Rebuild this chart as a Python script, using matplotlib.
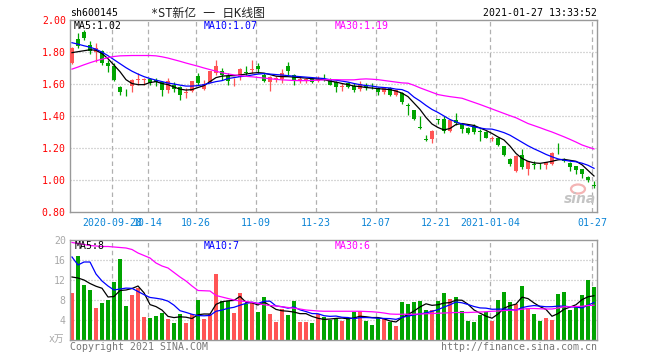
import matplotlib
matplotlib.use("Agg")
import matplotlib.pyplot as plt
from matplotlib.patches import Ellipse
import numpy as np

W, H = 660, 360
MONO = "DejaVu Sans Mono"
CJK = ["DejaVu Sans Mono", "Noto Sans CJK SC"]

# ---- daily K-line, 2020-09-17 .. 2021-01-27
opens = [1.733, 1.883, 1.926, 1.845, 1.802, 1.804, 1.732, 1.715, 1.580, 1.553,
         1.586, 1.627, 1.625, 1.632, 1.623, 1.611, 1.565, 1.596, 1.580, 1.545,
         1.555, 1.648, 1.571, 1.611, 1.669, 1.684, 1.649, 1.623, 1.645, 1.677,
         1.688, 1.715, 1.659, 1.612, 1.630, 1.632, 1.715, 1.659, 1.626, 1.627,
         1.633, 1.621, 1.630, 1.632, 1.611, 1.584, 1.609, 1.586, 1.569, 1.587,
         1.584, 1.576, 1.548, 1.576, 1.534, 1.545, 1.467, 1.436, 1.332, 1.257,
         1.254, 1.381, 1.383, 1.305, 1.378, 1.347, 1.327, 1.337, 1.306, 1.299,
         1.257, 1.264, 1.212, 1.133, 1.056, 1.154, 1.071, 1.101, 1.090, 1.092,
         1.098, 1.190, 1.133, 1.108, 1.087, 1.067, 1.021, 0.966]
highs = [1.830, 1.920, 1.940, 1.867, 1.858, 1.814, 1.752, 1.733, 1.590, 1.571,
         1.630, 1.671, 1.640, 1.640, 1.640, 1.620, 1.638, 1.615, 1.585, 1.578,
         1.621, 1.669, 1.627, 1.684, 1.752, 1.702, 1.671, 1.640, 1.702, 1.712,
         1.748, 1.732, 1.671, 1.648, 1.650, 1.693, 1.735, 1.662, 1.652, 1.640,
         1.640, 1.648, 1.665, 1.636, 1.620, 1.609, 1.615, 1.607, 1.617, 1.607,
         1.607, 1.580, 1.580, 1.580, 1.565, 1.550, 1.484, 1.440, 1.399, 1.279,
         1.310, 1.381, 1.399, 1.380, 1.420, 1.350, 1.330, 1.347, 1.316, 1.305,
         1.274, 1.270, 1.215, 1.136, 1.155, 1.196, 1.120, 1.118, 1.109, 1.115,
         1.172, 1.229, 1.140, 1.110, 1.090, 1.070, 1.025, 0.994]
lows = [1.725, 1.827, 1.877, 1.790, 1.740, 1.721, 1.673, 1.621, 1.534, 1.525,
        1.550, 1.596, 1.596, 1.596, 1.590, 1.528, 1.545, 1.547, 1.499, 1.515,
        1.550, 1.596, 1.565, 1.609, 1.659, 1.627, 1.593, 1.587, 1.627, 1.659,
        1.669, 1.671, 1.615, 1.559, 1.612, 1.609, 1.659, 1.594, 1.609, 1.609,
        1.609, 1.615, 1.617, 1.593, 1.548, 1.559, 1.578, 1.548, 1.555, 1.565,
        1.569, 1.534, 1.540, 1.523, 1.528, 1.472, 1.409, 1.378, 1.316, 1.243,
        1.233, 1.347, 1.295, 1.300, 1.341, 1.295, 1.290, 1.285, 1.243, 1.260,
        1.243, 1.210, 1.148, 1.090, 1.051, 1.071, 1.029, 1.071, 1.067, 1.067,
        1.095, 1.160, 1.115, 1.056, 1.036, 1.015, 0.988, 0.953]
closes = [1.827, 1.839, 1.886, 1.805, 1.827, 1.732, 1.710, 1.627, 1.548, 1.547,
          1.627, 1.633, 1.628, 1.607, 1.615, 1.565, 1.617, 1.571, 1.534, 1.551,
          1.617, 1.607, 1.602, 1.680, 1.712, 1.659, 1.618, 1.628, 1.694, 1.670,
          1.695, 1.694, 1.618, 1.643, 1.635, 1.668, 1.679, 1.628, 1.632, 1.631,
          1.614, 1.633, 1.625, 1.596, 1.582, 1.590, 1.584, 1.565, 1.603, 1.582,
          1.579, 1.548, 1.576, 1.534, 1.561, 1.486, 1.460, 1.383, 1.326, 1.251,
          1.305, 1.376, 1.305, 1.378, 1.358, 1.316, 1.296, 1.299, 1.300, 1.264,
          1.262, 1.216, 1.154, 1.098, 1.150, 1.084, 1.118, 1.096, 1.085, 1.112,
          1.166, 1.185, 1.118, 1.084, 1.063, 1.036, 1.000, 0.960]

ma5 = [1.796, 1.802, 1.808, 1.814, 1.811, 1.790, 1.758, 1.718, 1.677, 1.627,
       1.603, 1.596, 1.596, 1.609, 1.615, 1.603, 1.596, 1.581, 1.568, 1.562,
       1.565, 1.578, 1.590, 1.615, 1.640, 1.649, 1.652, 1.652, 1.656, 1.662,
       1.668, 1.671, 1.668, 1.659, 1.649, 1.646, 1.646, 1.643, 1.640, 1.637,
       1.634, 1.631, 1.627, 1.618, 1.612, 1.603, 1.596, 1.587, 1.584, 1.578,
       1.575, 1.571, 1.568, 1.565, 1.556, 1.543, 1.521, 1.481, 1.441, 1.391,
       1.350, 1.328, 1.313, 1.322, 1.347, 1.353, 1.347, 1.341, 1.325, 1.310,
       1.291, 1.269, 1.250, 1.212, 1.166, 1.135, 1.117, 1.107, 1.104, 1.110,
       1.117, 1.126, 1.129, 1.123, 1.117, 1.095, 1.060, 1.025]
ma10 = [1.858, 1.849, 1.839, 1.830, 1.817, 1.799, 1.777, 1.752, 1.727, 1.702,
        1.680, 1.662, 1.646, 1.634, 1.624, 1.615, 1.606, 1.600, 1.593, 1.587,
        1.587, 1.590, 1.596, 1.606, 1.615, 1.621, 1.634, 1.640, 1.646, 1.649,
        1.656, 1.662, 1.665, 1.662, 1.659, 1.656, 1.652, 1.649, 1.646, 1.643,
        1.640, 1.637, 1.634, 1.627, 1.624, 1.618, 1.612, 1.603, 1.596, 1.590,
        1.587, 1.581, 1.578, 1.575, 1.568, 1.565, 1.550, 1.518, 1.494, 1.466,
        1.441, 1.422, 1.400, 1.378, 1.363, 1.350, 1.341, 1.332, 1.325, 1.319,
        1.318, 1.308, 1.296, 1.280, 1.258, 1.236, 1.214, 1.195, 1.178, 1.160,
        1.145, 1.132, 1.124, 1.118, 1.114, 1.105, 1.092, 1.073]
ma30 = [1.693, 1.706, 1.720, 1.733, 1.745, 1.755, 1.765, 1.772, 1.776, 1.777,
        1.778, 1.778, 1.778, 1.778, 1.776, 1.770, 1.762, 1.752, 1.742, 1.731,
        1.721, 1.711, 1.700, 1.690, 1.680, 1.670, 1.663, 1.657, 1.652, 1.648,
        1.645, 1.641, 1.637, 1.633, 1.629, 1.626, 1.624, 1.622, 1.621, 1.621,
        1.622, 1.624, 1.626, 1.627, 1.627, 1.626, 1.626, 1.626, 1.630, 1.632,
        1.630, 1.627, 1.622, 1.617, 1.612, 1.607, 1.605, 1.592, 1.576, 1.562,
        1.548, 1.534, 1.527, 1.521, 1.516, 1.511, 1.498, 1.485, 1.472, 1.458,
        1.444, 1.430, 1.416, 1.402, 1.389, 1.371, 1.353, 1.340, 1.327, 1.313,
        1.300, 1.285, 1.270, 1.254, 1.237, 1.219, 1.206, 1.194]

# ---- volume (x万)
vol = [9.47, 16.8, 11.0, 10.0, 6.47, 7.47, 8.0, 11.53, 16.2, 6.87,
       9.0, 10.47, 4.67, 4.4, 4.87, 5.47, 4.2, 3.47, 5.2, 3.47,
       5.13, 8.0, 4.2, 5.13, 13.2, 7.8, 7.8, 5.47, 9.4, 7.13,
       7.47, 5.53, 8.6, 5.27, 3.67, 6.2, 5.0, 7.8, 3.67, 3.67,
       3.47, 5.13, 4.67, 4.0, 4.33, 3.8, 4.33, 5.53, 5.8, 3.8,
       3.0, 4.33, 4.2, 3.67, 2.87, 7.53, 7.2, 7.67, 7.8, 6.0,
       6.0, 7.8, 9.33, 8.2, 8.6, 5.8, 3.8, 3.67, 5.0, 5.53,
       3.8, 7.93, 9.53, 7.53, 7.13, 10.73, 6.47, 5.2, 3.8, 4.33,
       3.93, 9.13, 9.53, 6.0, 6.67, 9.0, 12.0, 10.6]
vol_ma5 = [12.6, 12.4, 12.0, 11.3, 10.75, 10.35, 8.6, 8.7, 9.9, 10.0,
           10.3, 10.8, 9.44, 7.08, 6.68, 5.98, 4.72, 4.48, 4.64, 4.56,
           4.29, 5.05, 5.20, 5.19, 7.13, 7.65, 7.83, 7.92, 8.73, 7.52,
           7.45, 7.00, 7.63, 6.88, 6.12, 5.85, 5.75, 5.59, 5.27, 5.27,
           4.72, 4.35, 4.12, 4.19, 4.32, 4.39, 4.23, 4.40, 4.76, 4.65,
           4.49, 4.49, 4.23, 3.80, 3.61, 4.52, 5.09, 5.79, 6.61, 7.24,
           6.93, 7.05, 7.39, 7.47, 7.99, 7.95, 7.15, 6.01, 5.37, 4.76,
           4.36, 5.19, 6.36, 6.86, 7.18, 8.57, 8.28, 7.41, 6.67, 6.11,
           4.75, 5.28, 6.14, 6.58, 7.05, 8.07, 8.64, 8.85]
vol_ma10 = [16.6, 15.0, 15.6, 15.6, 13.2, 11.8, 10.8, 10.0, 10.2, 10.38,
            10.33, 9.70, 9.07, 8.51, 8.35, 8.15, 7.77, 6.96, 5.86, 5.52,
            5.14, 4.89, 4.84, 4.91, 5.75, 5.98, 6.34, 6.54, 6.96, 7.33,
            7.56, 7.31, 7.75, 7.77, 6.81, 6.65, 6.37, 6.61, 6.03, 5.69,
            5.29, 5.25, 4.86, 4.73, 4.79, 4.55, 4.49, 4.26, 4.47, 4.49,
            4.44, 4.36, 4.31, 4.28, 4.13, 4.51, 4.79, 5.01, 5.21, 5.43,
            5.73, 6.07, 6.59, 7.04, 7.61, 7.44, 7.10, 6.70, 6.42, 6.37,
            6.15, 6.17, 6.19, 6.12, 5.97, 6.47, 6.73, 6.89, 6.77, 6.65,
            6.66, 6.78, 6.78, 6.63, 6.58, 6.41, 6.96, 7.50]
vol_ma30 = [19.5, 19.3, 19.1, 18.9, 18.8, 18.7, 18.7, 18.6, 18.5, 18.4,
            18.1, 17.4, 16.9, 16.4, 15.4, 14.8, 14.4, 13.5, 12.6, 11.8,
            10.8, 9.9, 9.85, 9.8, 8.9, 8.6, 8.3, 8.0, 7.8, 7.7,
            7.55, 7.3, 7.05, 6.9, 6.8, 6.65, 6.5, 6.35, 6.2, 6.0,
            5.9, 5.8, 5.75, 5.75, 5.75, 5.75, 5.75, 5.75, 5.75, 5.7,
            5.65, 5.55, 5.4, 5.2, 5.15, 5.15, 5.15, 5.15, 5.2, 5.25,
            5.3, 5.35, 5.4, 5.45, 5.5, 5.5, 5.5, 5.55, 5.6, 5.65,
            5.75, 5.8, 5.9, 5.95, 6.0, 6.15, 6.3, 6.3, 6.25, 6.2,
            6.2, 6.4, 6.65, 6.65, 6.7, 6.75, 6.9, 6.95]

tick_idx = [7, 13, 21, 31, 41, 51, 61, 70, 87]
tick_labels = ["2020-09-28", "10-14", "10-26", "11-09", "11-23",
               "12-07", "12-21", "2021-01-04", "01-27"]
price_ticks = [0.80, 1.00, 1.20, 1.40, 1.60, 1.80, 2.00]
vol_ticks = [4, 8, 12, 16, 20]

RED, GREEN = "#ff5555", "#00a400"
GRAY = "#999999"
GRID = "#b0b0b0"


def fx(x):
    return x / W


def fy(y):
    return 1 - y / H


fig = plt.figure(figsize=(W / 100, H / 100), dpi=100)
fig.patch.set_facecolor("white")
ax = fig.add_axes([fx(70), fy(212), (597 - 70) / W, 192 / H])
axv = fig.add_axes([fx(70), fy(340), (597 - 70) / W, 100 / H])

x = np.arange(len(closes))
o, h, l, c = map(np.array, (opens, highs, lows, closes))
up = c >= o
cols = np.where(up, RED, GREEN)
grid_x = [i - 1 / 3 for i in tick_idx]

for a in (ax, axv):
    a.set_xlim(-1 / 3, 87.5)
    for s in a.spines.values():
        s.set_color(GRAY)
        s.set_linewidth(1.0)
    for gx in grid_x:
        a.axvline(gx, color=GRID, lw=0.9, ls=(0, (3.6, 2.6)), zorder=0)
    a.tick_params(length=0)

# price panel
ax.set_ylim(0.80, 2.00)
for yv in price_ticks[1:-1]:
    ax.axhline(yv, color=GRID, lw=0.9, ls=(0, (0.8, 1.6)), zorder=0)
ax.vlines(x, l, h, colors=cols, lw=0.9, zorder=2)
body_h = np.maximum(np.abs(c - o), 0.005)
ax.bar(x, body_h, bottom=np.minimum(o, c), width=0.82, color=cols,
       lw=0, zorder=3)
ax.plot(x, ma5, color="black", lw=0.9, zorder=4)
ax.plot(x, ma10, color="#0000ff", lw=0.9, zorder=4)
ax.plot(x, ma30, color="#ff00ff", lw=0.9, zorder=4)
ax.set_yticks(price_ticks)
ax.set_yticklabels([f"{v:.2f}" for v in price_ticks], color="#ff0000",
                   family=MONO, fontsize=7.1)
ax.set_xticks(grid_x)
ax.set_xticklabels(tick_labels, color="#0a84d6", family=MONO, fontsize=7.1)
ax.tick_params(axis="y", pad=3)
ax.tick_params(axis="x", pad=4)

# volume panel
axv.set_ylim(0, 20)
for yv in vol_ticks[:-1]:
    axv.axhline(yv, color=GRID, lw=0.9, ls=(0, (0.8, 1.6)), zorder=0)
axv.bar(x, vol, width=0.82, color=cols, lw=0, zorder=2)
axv.plot(x, vol_ma5, color="black", lw=0.9, zorder=4)
axv.plot(x, vol_ma10, color="#0000ff", lw=0.9, zorder=4)
axv.plot(x, vol_ma30, color="#ff00ff", lw=0.9, zorder=4)
axv.set_yticks(vol_ticks)
axv.set_yticklabels([str(v) for v in vol_ticks], color="#a8a8a8",
                    family=MONO, fontsize=7.1)
axv.set_xticks([])
axv.tick_params(axis="y", pad=3)

# header / legends / footer
fs = 7.1
fig.text(fx(70), fy(13), "sh600145", family=MONO, fontsize=fs, va="center")
fig.text(fx(151), fy(13), "*ST新亿 一 日K线图", family=CJK, fontsize=8.6,
         va="center", color="#222222")
fig.text(fx(597), fy(13), "2021-01-27 13:33:52", family=MONO, fontsize=fs,
         va="center", ha="right")
fig.text(fx(74), fy(26), f"MA5:{ma5[-1]:.2f}", family=MONO, fontsize=fs,
         va="center")
fig.text(fx(204), fy(26), f"MA10:{ma10[-1]:.2f}", family=MONO, fontsize=fs,
         va="center", color="#0000ff")
fig.text(fx(335), fy(26), f"MA30:{ma30[-1]:.2f}", family=MONO, fontsize=fs,
         va="center", color="#ff00ff")
fig.text(fx(75), fy(246), f"MA5:{int(vol_ma5[-1])}", family=MONO,
         fontsize=fs, va="center")
fig.text(fx(204), fy(246), f"MA10:{int(vol_ma10[-1])}", family=MONO,
         fontsize=fs, va="center", color="#0000ff")
fig.text(fx(335), fy(246), f"MA30:{int(vol_ma30[-1])}", family=MONO,
         fontsize=fs, va="center", color="#ff00ff")
fig.text(fx(64), fy(339), "x万", family=CJK, fontsize=7, va="center",
         ha="right", color="#a8a8a8")
fig.text(fx(70), fy(347), "Copyright 2021 SINA.COM", family=MONO,
         fontsize=fs, va="center", color="#777777")
fig.text(fx(597), fy(347), "http://finance.sina.com.cn", family=MONO,
         fontsize=fs, va="center", ha="right", color="#777777")

# sina watermark
fig.add_artist(Ellipse((fx(578), fy(189)), 14 / W, 9 / H,
                       transform=fig.transFigure, fill=False,
                       edgecolor="#f4b4b4", lw=1.6))
fig.text(fx(580), fy(199), "sina", fontsize=10, style="italic",
         weight="bold", color="#c4c4c4", ha="center", va="center")

fig.savefig("out.png", dpi=100)
